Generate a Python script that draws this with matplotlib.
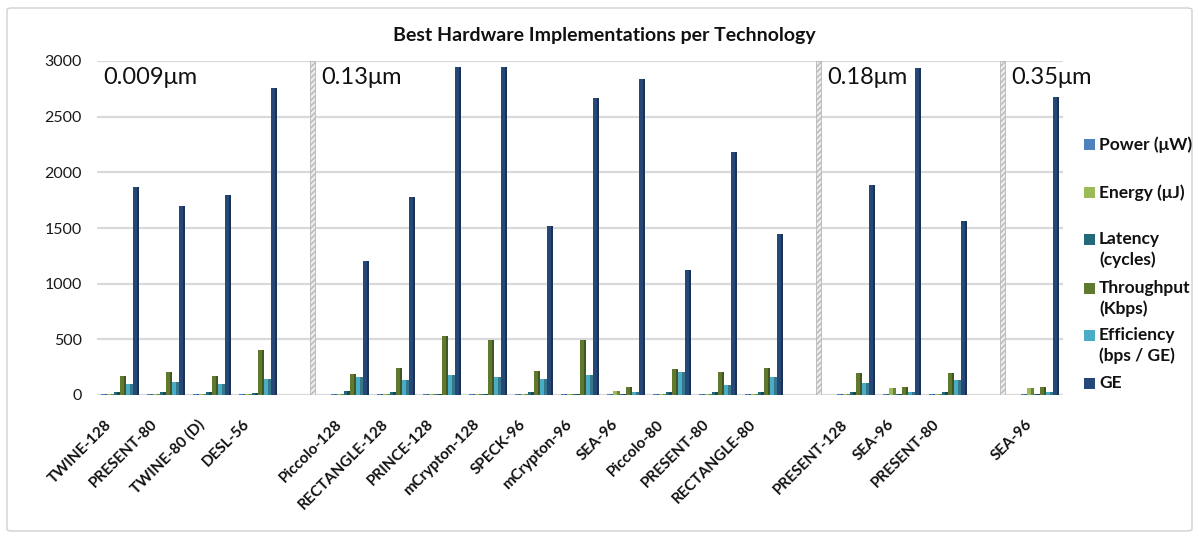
import numpy as np
import matplotlib
matplotlib.use("Agg")
import matplotlib.pyplot as plt
from matplotlib.patches import Rectangle, FancyBboxPatch
from matplotlib.colors import to_rgb

plt.rcParams['font.family'] = ['Lato', 'DejaVu Sans']

# ciphers, grouped by technology node
technologies = ['0.009μm', '0.13μm', '0.18μm', '0.35μm']
group_sizes = [4, 10, 3, 1]
ciphers = ['TWINE-128', 'PRESENT-80', 'TWINE-80 (D)', 'DESL-56',
           'Piccolo-128', 'RECTANGLE-128', 'PRINCE-128', 'mCrypton-128', 'SPECK-96',
           'mCrypton-96', 'SEA-96', 'Piccolo-80', 'PRESENT-80', 'RECTANGLE-80',
           'PRESENT-128', 'SEA-96', 'PRESENT-80',
           'SEA-96']

power      = [8, 8, 8, 8,  8, 8, 8, 8, 8, 8, 8, 8, 8, 8,  8, 5, 8,  5]
energy     = [5, 5, 5, 5,  5, 5, 5, 5, 5, 5, 40, 5, 5, 5,  5, 60, 5,  60]
latency    = [30, 30, 30, 15,  36, 24, 5, 5, 24, 5, 5, 24, 24, 24,  30, 5, 30,  5]
throughput = [175, 205, 175, 400,  190, 246, 530, 490, 219, 490, 70, 234, 204, 246,  200, 69, 196,  69]
efficiency = [96, 120, 96, 145,  160, 135, 177, 162, 141, 180, 24, 207, 90, 162,  108, 24, 131,  24]
ge         = [1866, 1700, 1799, 2760,  1200, 1780, 2950, 2950, 1515, 2670, 2840, 1120, 2180, 1450,
              1890, 2940, 1560,  2680]

series = [('Power (μW)', power, '#4F81BD'),
          ('Energy (μJ)', energy, '#9BBB59'),
          ('Latency\n(cycles)', latency, '#22697A'),
          ('Throughput\n(Kbps)', throughput, '#5F7A2E'),
          ('Efficiency\n(bps / GE)', efficiency, '#4BACC6'),
          ('GE', ge, '#264878')]

# slot positions: one empty slot between technology groups
pos = []
starts = []
slot = 0
for n in group_sizes:
    starts.append(slot)
    pos.extend(range(slot, slot + n))
    slot += n + 1
pos = np.array(pos, dtype=float)
nslots = slot - 1

W, H = 1199, 539
fig = plt.figure(figsize=(W / 100, H / 100), dpi=100)
fig.patches.append(FancyBboxPatch((7 / W, 8 / H), 1185 / W, 523 / H,
                                  boxstyle='round,pad=0,rounding_size=0.004',
                                  transform=fig.transFigure, fill=False,
                                  edgecolor='#d0d0d0', linewidth=1.0))

ax = fig.add_axes([97 / W, 1 - 395 / H, 966 / W, 334 / H])
ax.set_xlim(-0.5, nslots - 0.5)
ax.set_ylim(0, 3000)

def darker(c, f=0.7):
    r, g, b = to_rgb(c)
    return (r * f, g * f, b * f)

step = 0.14
bw = 0.14
for k, (name, vals, col) in enumerate(series):
    x = pos + (k - 2.5) * step
    ax.bar(x, vals, width=bw, color=col, zorder=3)
    # darker side face
    ax.bar(x + bw * 0.3, vals, width=bw * 0.4, color=darker(col), zorder=3)

ax.set_yticks(np.arange(0, 3001, 500))
ax.yaxis.grid(True, color='#d9d9d9', linewidth=1.6, zorder=0)
ax.set_axisbelow(True)
for s in ax.spines.values():
    s.set_visible(False)
ax.tick_params(axis='both', length=0)
ax.tick_params(axis='y', labelsize=11.5, labelcolor='#1a1a1a', pad=11)
ax.set_xticks(pos)
ax.set_xticklabels([])
for x, name in zip(pos, ciphers):
    ax.annotate(name, (x, 0), xytext=(-11, -16), textcoords='offset points',
                rotation=45, ha='right', va='top', rotation_mode='anchor',
                fontsize=11, fontweight='bold', color='#111111',
                annotation_clip=False)

# hatched separators between technology groups
for st in starts[1:]:
    xs = st - 0.87
    ax.axvspan(xs, xs + 0.11, ymin=0, ymax=1, facecolor='#ececec',
               edgecolor='#b8b8b8', hatch='//////', linewidth=0.6, zorder=2)

# technology labels
tech_x = [-0.37] + [st - 0.62 for st in starts[1:]]
for tx, tech in zip(tech_x, technologies):
    ax.text(tx, 2950, tech, fontsize=17, color='#111111', va='top',
            ha='left', zorder=2.5,
            bbox=dict(facecolor='white', edgecolor='none', pad=1))

fig.text(604 / W, 1 - 35 / H, 'Best Hardware Implementations per Technology',
         ha='center', va='center', fontsize=14, fontweight='bold', color='#111111')

# legend on the right
leg_y = [145, 193, 240, 289, 336, 384]
for (name, vals, col), y in zip(series, leg_y):
    fig.patches.append(Rectangle((1084 / W, 1 - (y + 5) / H), 11 / W, 11 / H,
                                 transform=fig.transFigure, facecolor=col,
                                 edgecolor='none'))
    fig.text(1099 / W, 1 - (y - 9) / H, name, ha='left', va='top',
             fontsize=12.5, fontweight='bold', color='#111111', linespacing=1.3)

fig.savefig('out.png', dpi=100)
